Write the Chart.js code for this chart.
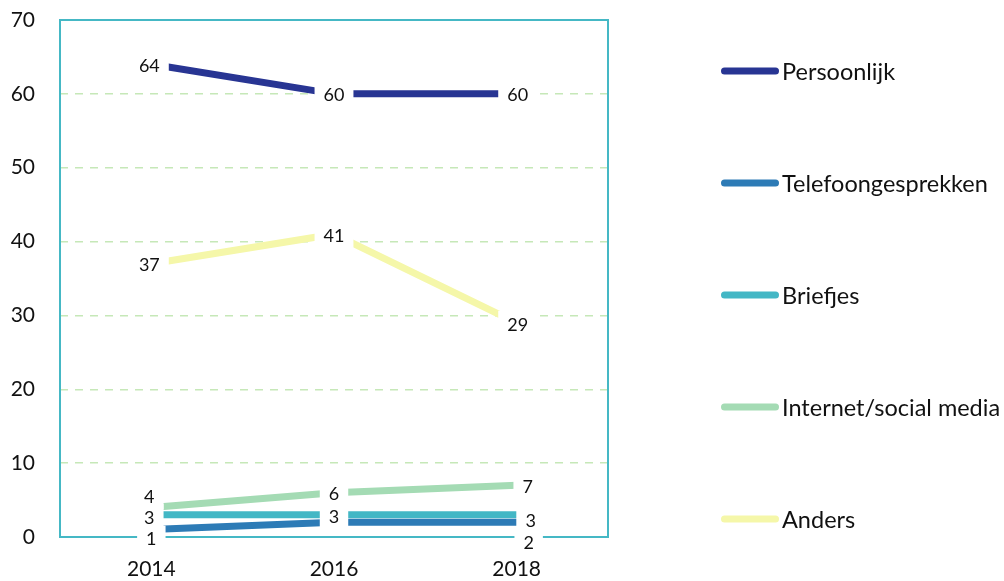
<!DOCTYPE html>
<html lang="nl">
<head>
    <meta charset="UTF-8">
    <title>Contact per jaar</title>
    <script src="https://cdn.jsdelivr.net/npm/chart.js"></script>
    <style>
        html, body { margin: 0; padding: 0; background: #fff; }
        .chart-box { width: 1004px; height: 581px; }
    </style>
</head>
<body>
<div class="chart-box">
    <canvas id="contactChart"></canvas>
</div>

<script>
    // Gegevens
    const jaren = ['2014', '2016', '2018'];
    const persoonlijk = [64, 60, 60];
    const telefoon = [1, 2, 2];
    const briefjes = [3, 3, 3];
    const internet = [4, 6, 7];
    const anders = [37, 41, 29];
    const yTicks = [0, 10, 20, 30, 40, 50, 60, 70];

    const reeksNamen = ['Persoonlijk', 'Telefoongesprekken', 'Briefjes', 'Internet/social media', 'Anders'];
    const reeksKleuren = ['#283593', '#2d7bb6', '#43b7c5', '#a4dbb4', '#f5f7a9'];

    // verschuiving van de labels t.o.v. het punt (px), null = niet tonen
    const labelShift = [
        [[-2, 1], [0, 0], [1, 0]],
        [[0, 9], null, [12, 20]],
        [[-2, 2], [0, 1], [14, 5]],
        [[-2, -11], [0, 1], [11, 1]],
        [[-2, 0], [0, 1], [1, 1]]
    ];

    const font = 'Lato, "Open Sans", sans-serif';
    const randKleur = '#45b8c5';

    // kader rond het plotgebied
    const kader = {
        id: 'kader',
        beforeDatasetsDraw(chart) {
            const {ctx, chartArea: a} = chart;
            ctx.save();
            ctx.strokeStyle = randKleur;
            ctx.lineWidth = 2;
            ctx.strokeRect(a.left, a.top, a.right - a.left, a.bottom - a.top);
            ctx.restore();
        }
    };

    // waardelabels met witte achtergrond
    const waardeLabels = {
        id: 'waardeLabels',
        afterDraw(chart) {
            const ctx = chart.ctx;
            ctx.save();
            ctx.font = '18px ' + font;
            ctx.textAlign = 'center';
            ctx.textBaseline = 'middle';
            chart.data.datasets.forEach((ds, i) => {
                const meta = chart.getDatasetMeta(i);
                meta.data.forEach((pt, j) => {
                    const sh = labelShift[i][j];
                    if (!sh) return;
                    const x = pt.x + sh[0];
                    const y = pt.y + sh[1];
                    const txt = String(ds.data[j]);
                    const w = ctx.measureText(txt).width;
                    ctx.fillStyle = '#fff';
                    ctx.fillRect(x - w / 2 - 9, y - 13, w + 18, 26);
                    ctx.fillStyle = '#111';
                    ctx.fillText(txt, x, y + 1);
                });
            });
            ctx.restore();
        }
    };

    // legenda rechts
    const legenda = {
        id: 'legenda',
        afterDraw(chart) {
            const {ctx, chartArea: a} = chart;
            const x0 = a.right + 116.5;
            ctx.save();
            ctx.font = '23.5px ' + font;
            ctx.textBaseline = 'middle';
            ctx.textAlign = 'left';
            chart.data.datasets.forEach((ds, i) => {
                const y = a.top + 51 + i * 112;
                ctx.strokeStyle = ds.borderColor;
                ctx.lineWidth = 7;
                ctx.lineCap = 'round';
                ctx.beginPath();
                ctx.moveTo(x0, y);
                ctx.lineTo(x0 + 51, y);
                ctx.stroke();
                ctx.fillStyle = '#111';
                ctx.fillText(ds.label, x0 + 57.5, y + 1);
            });
            ctx.restore();
        }
    };

    const reeksen = [persoonlijk, telefoon, briefjes, internet, anders];

    const data = {
        labels: jaren,
        datasets: reeksen.map((waarden, i) => ({
            label: reeksNamen[i],
            data: waarden,
            borderColor: reeksKleuren[i],
            backgroundColor: reeksKleuren[i],
            borderWidth: 7,
            borderCapStyle: 'butt',
            pointRadius: 0,
            pointHoverRadius: 0,
            tension: 0,
            fill: false
        }))
    };

    const config = {
        type: 'line',
        data: data,
        options: {
            responsive: true,
            maintainAspectRatio: false,
            animation: false,
            layout: {
                padding: { top: 20, right: 396, left: 0, bottom: 0 }
            },
            plugins: {
                legend: { display: false },
                tooltip: { enabled: false },
                title: { display: false }
            },
            scales: {
                x: {
                    offset: true,
                    grid: { display: false, drawTicks: false },
                    border: { display: false },
                    ticks: {
                        color: '#111',
                        font: { family: font, size: 21 },
                        padding: 20
                    },
                    afterFit(s) { s.height = 44; }
                },
                y: {
                    min: 0,
                    max: 70,
                    afterBuildTicks(s) { s.ticks = yTicks.map(v => ({ value: v })); },
                    grid: {
                        drawTicks: false,
                        lineWidth: 1.5,
                        color: c => (c.tick && (c.tick.value === 0 || c.tick.value === 70)) ? 'rgba(0,0,0,0)' : '#c6e8b8'
                    },
                    border: { display: false, dash: [8, 7] },
                    ticks: {
                        color: '#111',
                        font: { family: font, size: 21 },
                        padding: 25
                    },
                    afterFit(s) {
                        s.width = 60;
                        s.paddingTop = 0;
                        s.paddingBottom = 0;
                    }
                }
            }
        },
        plugins: [kader, waardeLabels, legenda]
    };

    const contactChart = new Chart(document.getElementById('contactChart'), config);
</script>
</body>
</html>
